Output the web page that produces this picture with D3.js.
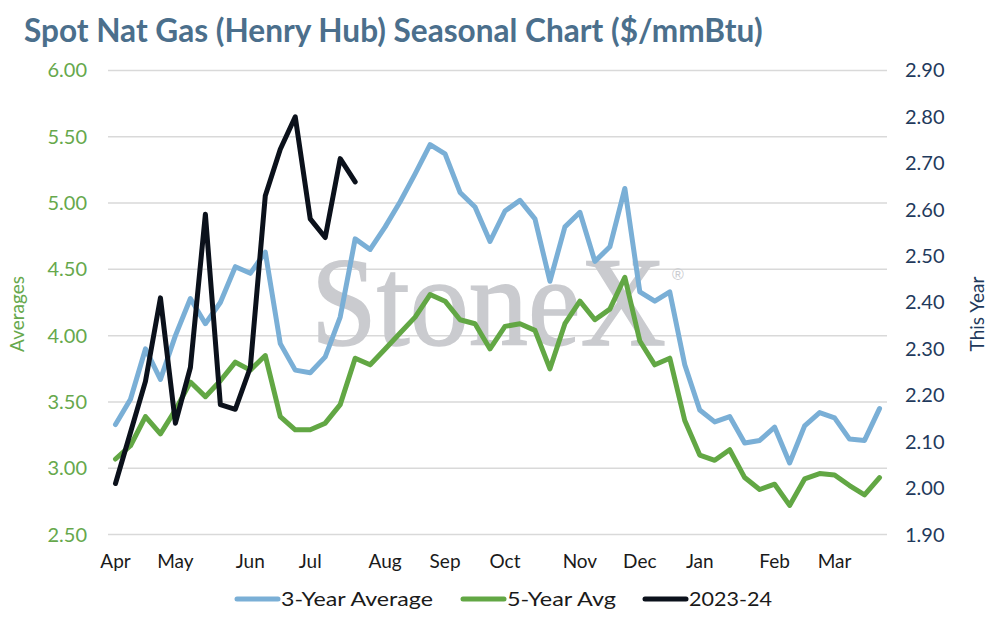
<!DOCTYPE html>
<html lang="en">
<head>
    <meta charset="UTF-8">
    <title>Spot Nat Gas (Henry Hub) Seasonal Chart</title>
    <script src="https://d3js.org/d3.v7.min.js"></script>
    <style>
        body {
            margin: 0;
            padding: 0;
            background-color: #ffffff;
            font-family: 'Lato', 'Open Sans', sans-serif;
        }
        .grid line {
            stroke: #d9d9d9;
            stroke-width: 1.5;
        }
        .series {
            fill: none;
            stroke-width: 5;
            stroke-linejoin: round;
            stroke-linecap: round;
        }
    </style>
</head>
<body>
<div id="chart"></div>
<script>
    // weekly points, April to March
    var weeks = d3.range(52);
    var monthLabels = ['Apr', 'May', 'Jun', 'Jul', 'Aug', 'Sep', 'Oct', 'Nov', 'Dec', 'Jan', 'Feb', 'Mar'];
    var monthWeek = [0, 4, 9, 13, 18, 22, 26, 31, 35, 39, 44, 48];

    var leftTicks = [2.50, 3.00, 3.50, 4.00, 4.50, 5.00, 5.50, 6.00];
    var rightTicks = [1.90, 2.00, 2.10, 2.20, 2.30, 2.40, 2.50, 2.60, 2.70, 2.80, 2.90];

    var avg3 = [3.33, 3.52, 3.90, 3.67, 4.00, 4.28, 4.09, 4.25, 4.52, 4.47, 4.63, 3.94, 3.74,
                3.72, 3.84, 4.14, 4.73, 4.65, 4.82, 5.01, 5.22, 5.44, 5.37, 5.08, 4.97, 4.71,
                4.94, 5.02, 4.88, 4.41, 4.82, 4.93, 4.56, 4.67, 5.11, 4.33, 4.26, 4.33, 3.78,
                3.44, 3.35, 3.39, 3.19, 3.21, 3.31, 3.04, 3.32, 3.42, 3.38, 3.22, 3.21, 3.45];

    var avg5 = [3.07, 3.17, 3.39, 3.26, 3.44, 3.65, 3.54, 3.66, 3.80, 3.74, 3.85, 3.39, 3.29,
                3.29, 3.34, 3.48, 3.83, 3.78, 3.90, 4.02, 4.14, 4.31, 4.26, 4.12, 4.09, 3.90,
                4.07, 4.09, 4.04, 3.75, 4.09, 4.26, 4.12, 4.20, 4.44, 3.96, 3.78, 3.83, 3.36,
                3.10, 3.06, 3.14, 2.93, 2.84, 2.88, 2.72, 2.92, 2.96, 2.95, 2.87, 2.80, 2.93];

    // 2023-24, plotted on the right axis
    var thisYear = [2.01, 2.12, 2.23, 2.41, 2.14, 2.26, 2.59, 2.18, 2.17, 2.26, 2.63, 2.73,
                    2.80, 2.58, 2.54, 2.71, 2.66];

    var W = 993, H = 617;
    var plotLeft = 108, plotRight = 887, plotTop = 70.4, plotBottom = 534.6;

    var svg = d3.select('#chart').append('svg')
        .attr('width', W)
        .attr('height', H);

    var x = d3.scaleBand().domain(weeks).range([plotLeft, plotRight]);
    var cx = function (i) { return x(i) + x.bandwidth() / 2; };
    var yL = d3.scaleLinear().domain([2.5, 6.0]).range([plotBottom, plotTop]);
    var yR = d3.scaleLinear().domain([1.9, 2.9]).range([plotBottom, plotTop]);

    // title, squeezed to the reference width
    var title = svg.append('text')
        .attr('x', 24)
        .attr('y', 42)
        .style('font-size', '27px')
        .style('font-weight', 'bold')
        .style('fill', '#4b6f8c')
        .text('Spot Nat Gas (Henry Hub) Seasonal Chart ($/mmBtu)');
    var tw = title.node().getComputedTextLength();
    title.style('font-size', (27 * 739 / tw) + 'px');

    // gridlines
    svg.append('g')
        .attr('class', 'grid')
        .selectAll('line')
        .data(leftTicks)
        .enter()
        .append('line')
        .attr('x1', plotLeft)
        .attr('x2', plotRight)
        .attr('y1', function (d) { return yL(d); })
        .attr('y2', function (d) { return yL(d); });

    // watermark
    var wm = svg.append('g').style('fill', '#cacbcf');
    wm.append('text')
        .attr('x', 311)
        .attr('y', 345)
        .attr('textLength', 355)
        .attr('lengthAdjust', 'spacingAndGlyphs')
        .style('font-family', "'Liberation Serif', 'DejaVu Serif', serif")
        .style('font-size', '126px')
        .style('stroke', '#cacbcf')
        .style('stroke-width', 1.5)
        .text('StoneX');
    wm.append('text')
        .attr('x', 672)
        .attr('y', 280)
        .style('font-family', "'Liberation Sans', sans-serif")
        .style('font-size', '16px')
        .text('\u00AE');

    // left axis
    var axL = svg.append('g')
        .attr('transform', 'translate(' + plotLeft + ',0)')
        .call(d3.axisLeft(yL).tickValues(leftTicks).tickFormat(d3.format('.2f')).tickSize(0).tickPadding(21));
    axL.select('.domain').remove();
    axL.selectAll('text').style('font-size', '20px').style('fill', '#66a84c').style('font-family', 'Lato, sans-serif');

    // right axis
    var axR = svg.append('g')
        .attr('transform', 'translate(' + plotRight + ',0)')
        .call(d3.axisRight(yR).tickValues(rightTicks).tickFormat(d3.format('.2f')).tickSize(0).tickPadding(18));
    axR.select('.domain').remove();
    axR.selectAll('text').style('font-size', '20px').style('fill', '#1f3a5c').style('font-family', 'Lato, sans-serif');

    // x axis month labels
    var axX = svg.append('g')
        .attr('transform', 'translate(0,' + plotBottom + ')')
        .call(d3.axisBottom(x).tickValues(monthWeek)
            .tickFormat(function (d) { return monthLabels[monthWeek.indexOf(d)]; })
            .tickSize(0).tickPadding(20));
    axX.select('.domain').remove();
    axX.selectAll('text').style('font-size', '19px').style('fill', '#1a1a1a').style('font-family', 'Lato, sans-serif');

    // axis titles
    svg.append('text')
        .attr('transform', 'translate(24,314) rotate(-90)')
        .style('text-anchor', 'middle')
        .style('font-size', '19px')
        .style('fill', '#66a84c')
        .text('Averages');
    svg.append('text')
        .attr('transform', 'translate(984,314) rotate(-90)')
        .style('text-anchor', 'middle')
        .style('font-size', '19px')
        .style('fill', '#1f3a5c')
        .text('This Year');

    // series
    var lineL = d3.line()
        .x(function (d, i) { return cx(i); })
        .y(function (d) { return yL(d); });
    var lineR = d3.line()
        .x(function (d, i) { return cx(i); })
        .y(function (d) { return yR(d); });

    svg.append('path').datum(avg3).attr('class', 'series').attr('stroke', '#7aafd6').attr('d', lineL);
    svg.append('path').datum(avg5).attr('class', 'series').attr('stroke', '#62a744').attr('d', lineL);
    svg.append('path').datum(thisYear).attr('class', 'series').attr('stroke', '#0b111b').attr('d', lineR);

    // legend
    var legend = [
        { name: '3-Year Average', color: '#7aafd6', x: 237, w: 152 },
        { name: '5-Year Avg', color: '#62a744', x: 463, w: 109 },
        { name: '2023-24', color: '#0b111b', x: 645, w: 83 }
    ];
    var lg = svg.append('g').attr('transform', 'translate(0,599)');
    legend.forEach(function (d) {
        lg.append('line')
            .attr('x1', d.x)
            .attr('x2', d.x + 41)
            .attr('stroke', d.color)
            .attr('stroke-width', 5)
            .attr('stroke-linecap', 'round');
        lg.append('text')
            .attr('x', d.x + 44)
            .attr('y', 7)
            .attr('textLength', d.w)
            .attr('lengthAdjust', 'spacingAndGlyphs')
            .style('font-size', '19px')
            .style('fill', '#1a1a1a')
            .text(d.name);
    });
</script>
</body>
</html>
